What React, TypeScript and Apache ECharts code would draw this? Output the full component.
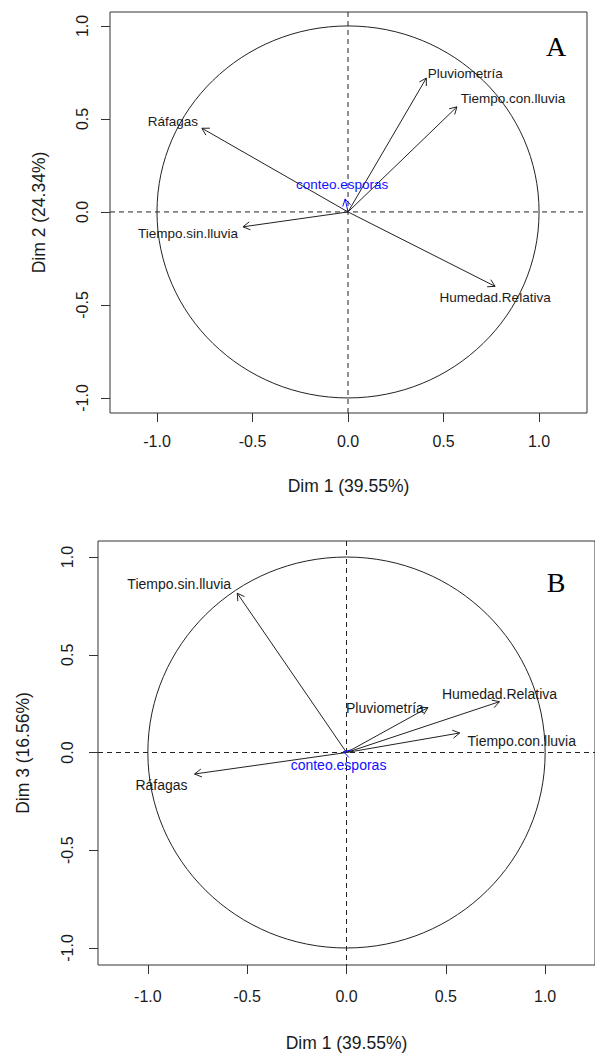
import React, { useEffect, useRef } from 'react';
import * as echarts from 'echarts';

// ---- data ----
const variables = ['Pluviometría', 'Tiempo.con.lluvia', 'Ráfagas', 'Tiempo.sin.lluvia', 'Humedad.Relativa', 'conteo.esporas'];
const dim1 = [0.41, 0.57, -0.765, -0.55, 0.77, -0.015];
const dim2 = [0.72, 0.565, 0.45, -0.08, -0.40, 0.07];
const dim3 = [0.23, 0.10, -0.11, 0.815, 0.26, 0.005];
const supplementary = ['conteo.esporas'];
const tickValues = [-1, -0.5, 0, 0.5, 1];
const xTitle = 'Dim 1 (39.55%)';
const yTitleA = 'Dim 2 (24.34%)';
const yTitleB = 'Dim 3 (16.56%)';
const panelLetters = ['A', 'B'];

// ---- styles / label placement (pixel offsets from arrow tip) ----
const offsetsA: number[][] = [[39, -5], [56, -8], [-29, -7], [-55, 7], [0, 11], [-3, -14]];
const offsetsB: number[][] = [[-43, 0], [62, 8], [-33, 11], [-58, -9], [0, -8], [-5, 13]];
const SANS = '"Liberation Sans", Arial, sans-serif';
const SERIF = '"Liberation Serif", "Times New Roman", serif';
const INK = '#1a1a1a';
const BLUE = '#1010ff';

function arrowRenderer(offsets: number[][], fontSize: number) {
  return (params: any, api: any) => {
    const i = params.dataIndex;
    const p0 = api.coord([0, 0]);
    const p1 = api.coord([api.value(0), api.value(1)]);
    const isSup = supplementary.includes(variables[i]);
    const col = isSup ? BLUE : '#222';
    const ang = Math.atan2(p1[1] - p0[1], p1[0] - p0[0]);
    const L = 8;
    const a = Math.PI / 6;
    const h1 = [p1[0] - L * Math.cos(ang - a), p1[1] - L * Math.sin(ang - a)];
    const h2 = [p1[0] - L * Math.cos(ang + a), p1[1] - L * Math.sin(ang + a)];
    return {
      type: 'group',
      children: [
        { type: 'line', shape: { x1: p0[0], y1: p0[1], x2: p1[0], y2: p1[1] }, style: { stroke: col, lineWidth: 1 } },
        { type: 'polyline', shape: { points: [h1, p1, h2] }, style: { stroke: col, fill: 'none', lineWidth: 1 } },
        {
          type: 'text',
          x: p1[0] + offsets[i][0],
          y: p1[1] + offsets[i][1],
          style: {
            text: variables[i],
            fill: isSup ? BLUE : INK,
            fontSize,
            fontFamily: SANS,
            textAlign: 'center',
            textVerticalAlign: 'middle',
          },
        },
      ],
    };
  };
}

const circleRenderer = (params: any, api: any) => {
  const c = api.coord([0, 0]);
  const s = api.size([1, 1]);
  return { type: 'ellipse', shape: { cx: c[0], cy: c[1], rx: s[0], ry: s[1] }, style: { stroke: '#222', fill: 'none', lineWidth: 1 } };
};

const crossRenderer = (params: any, api: any) => {
  const cs = params.coordSys;
  const c = api.coord([0, 0]);
  const st = { stroke: '#222', lineWidth: 1, lineDash: [5, 4] };
  return {
    type: 'group',
    children: [
      { type: 'line', shape: { x1: cs.x, y1: c[1], x2: cs.x + cs.width, y2: c[1] }, style: st },
      { type: 'line', shape: { x1: c[0], y1: cs.y, x2: c[0], y2: cs.y + cs.height }, style: st },
    ],
  };
};

function makeX(gridIndex: number, min: number, max: number, labelMargin: number, nameGap: number) {
  return {
    type: 'value', gridIndex, min, max, position: 'bottom',
    axisLine: { show: false, onZero: false },
    splitLine: { show: false },
    axisTick: { show: true, length: 9, customValues: tickValues, lineStyle: { color: '#333', width: 1 } },
    axisLabel: { customValues: tickValues, formatter: (v: number) => v.toFixed(1), fontSize: 16, fontFamily: SANS, color: INK, margin: labelMargin },
    name: xTitle, nameLocation: 'middle', nameGap,
    nameTextStyle: { fontSize: 17.5, fontFamily: SANS, color: INK },
  };
}

function makeY(gridIndex: number, min: number, max: number, labelMargin: number, name: string, nameGap: number) {
  return {
    type: 'value', gridIndex, min, max, position: 'left',
    axisLine: { show: false, onZero: false },
    splitLine: { show: false },
    axisTick: { show: true, length: 9, customValues: tickValues, lineStyle: { color: '#333', width: 1 } },
    axisLabel: { customValues: tickValues, rotate: 90, formatter: (v: number) => v.toFixed(1), fontSize: 16, fontFamily: SANS, color: INK, margin: labelMargin },
    name, nameLocation: 'middle', nameGap, nameRotate: 90,
    nameTextStyle: { fontSize: 17.5, fontFamily: SANS, color: INK },
  };
}

export default function App() {
  const ref = useRef<HTMLDivElement>(null);
  useEffect(() => {
    if (!ref.current) return;
    const chart = echarts.init(ref.current, undefined, { renderer: 'svg' });
    const dataA = dim1.map((x, i) => [x, dim2[i]]);
    const dataB = dim1.map((x, i) => [x, dim3[i]]);
    const option: any = {
      animation: false,
      backgroundColor: '#fff',
      grid: [
        { left: 110, top: 12, width: 477, height: 401, show: true, borderColor: '#333', borderWidth: 1, backgroundColor: 'transparent' },
        { left: 98, top: 541, width: 508, height: 425, show: true, borderColor: '#333', borderWidth: 1, backgroundColor: 'transparent' },
      ],
      xAxis: [makeX(0, -1.246, 1.251, 20, 64), makeX(1, -1.251, 1.251, 23, 69)],
      yAxis: [makeY(0, -1.081, 1.075, 20, yTitleA, 62), makeY(1, -1.087, 1.082, 23, yTitleB, 66)],
      series: [
        { type: 'custom', xAxisIndex: 0, yAxisIndex: 0, data: [[0, 0]], renderItem: crossRenderer, silent: true },
        { type: 'custom', xAxisIndex: 0, yAxisIndex: 0, data: [[0, 0]], renderItem: circleRenderer, silent: true },
        { type: 'custom', xAxisIndex: 0, yAxisIndex: 0, data: dataA, renderItem: arrowRenderer(offsetsA, 13.5) },
        { type: 'custom', xAxisIndex: 1, yAxisIndex: 1, data: [[0, 0]], renderItem: crossRenderer, silent: true },
        { type: 'custom', xAxisIndex: 1, yAxisIndex: 1, data: [[0, 0]], renderItem: circleRenderer, silent: true },
        { type: 'custom', xAxisIndex: 1, yAxisIndex: 1, data: dataB, renderItem: arrowRenderer(offsetsB, 14) },
      ],
      graphic: [
        { type: 'text', x: 556, y: 46, style: { text: panelLetters[0], font: `28px ${SERIF}`, fill: '#000', textAlign: 'center', textVerticalAlign: 'middle' } },
        { type: 'text', x: 556, y: 582, style: { text: panelLetters[1], font: `28px ${SERIF}`, fill: '#000', textAlign: 'center', textVerticalAlign: 'middle' } },
      ],
    };
    chart.setOption(option);
    return () => chart.dispose();
  }, []);
  return <div ref={ref} style={{ position: 'absolute', left: 0, top: 0, width: 595, height: 1053 }} />;
}
